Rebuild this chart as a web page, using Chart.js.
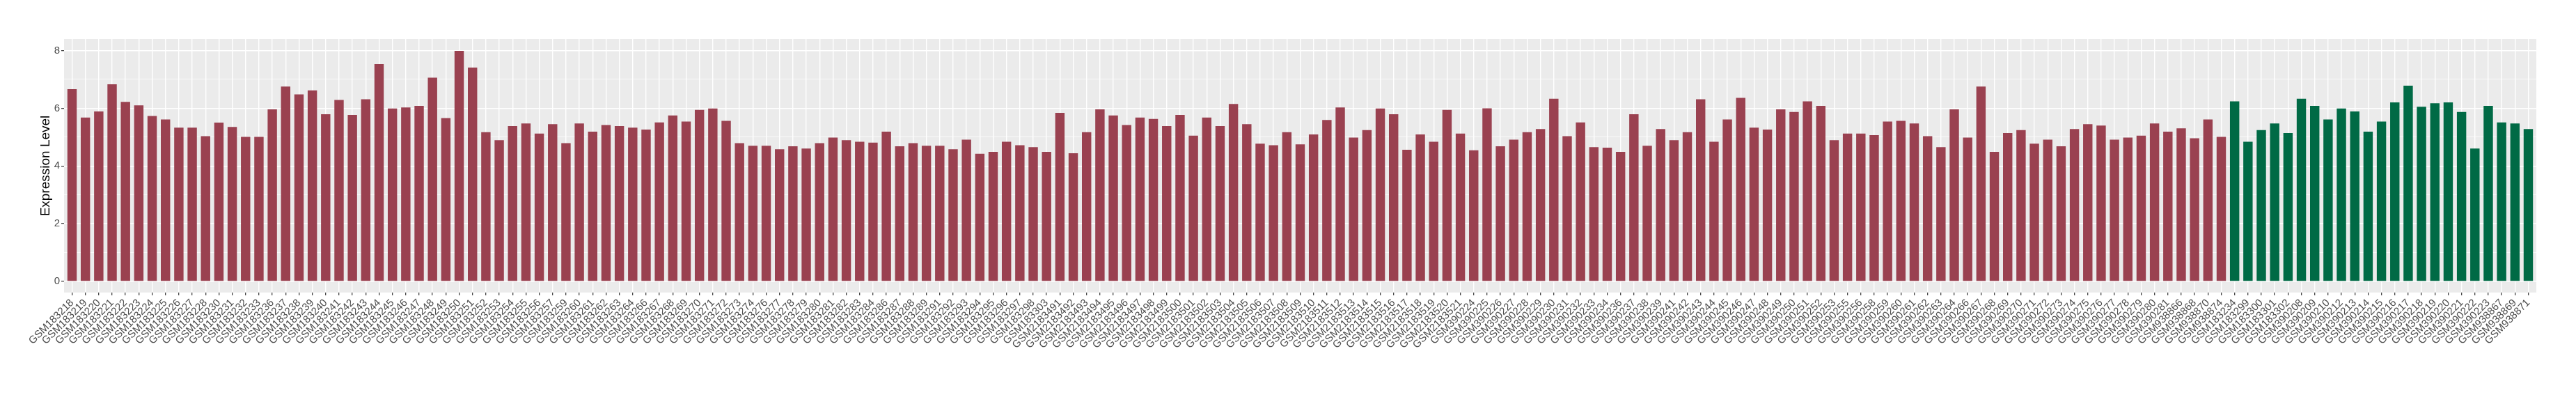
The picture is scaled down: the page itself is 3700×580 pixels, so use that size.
<!DOCTYPE html>
<html lang="en">
<head>
    <meta charset="UTF-8">
    <title>Expression Level</title>
    <script src="https://cdn.jsdelivr.net/npm/chart.js@4.4.0/dist/chart.umd.min.js"></script>
    <style>
        body { margin: 0; background: #ffffff; }
        canvas { display: block; }
    </style>
</head>
<body>
    <canvas id="graph1" width="3700" height="580"></canvas>
    <script>
        // red group samples and values
        const redSamples = [
            "GSM183218", "GSM183219", "GSM183220", "GSM183221", "GSM183222", "GSM183223", "GSM183224", "GSM183225",
            "GSM183226", "GSM183227", "GSM183228", "GSM183230", "GSM183231", "GSM183232", "GSM183233", "GSM183236",
            "GSM183237", "GSM183238", "GSM183239", "GSM183240", "GSM183241", "GSM183242", "GSM183243", "GSM183244",
            "GSM183245", "GSM183246", "GSM183247", "GSM183248", "GSM183249", "GSM183250", "GSM183251", "GSM183252",
            "GSM183253", "GSM183254", "GSM183255", "GSM183256", "GSM183257", "GSM183259", "GSM183260", "GSM183261",
            "GSM183262", "GSM183263", "GSM183264", "GSM183266", "GSM183267", "GSM183268", "GSM183269", "GSM183270",
            "GSM183271", "GSM183272", "GSM183273", "GSM183274", "GSM183276", "GSM183277", "GSM183278", "GSM183279",
            "GSM183280", "GSM183281", "GSM183282", "GSM183283", "GSM183284", "GSM183286", "GSM183287", "GSM183288",
            "GSM183289", "GSM183291", "GSM183292", "GSM183293", "GSM183294", "GSM183295", "GSM183296", "GSM183297",
            "GSM183298", "GSM183303",
            "GSM2183491", "GSM2183492", "GSM2183493", "GSM2183494", "GSM2183495", "GSM2183496", "GSM2183497",
            "GSM2183498", "GSM2183499", "GSM2183500", "GSM2183501", "GSM2183502", "GSM2183503", "GSM2183504",
            "GSM2183505", "GSM2183506", "GSM2183507", "GSM2183508", "GSM2183509", "GSM2183510", "GSM2183511",
            "GSM2183512", "GSM2183513", "GSM2183514", "GSM2183515", "GSM2183516", "GSM2183517", "GSM2183518",
            "GSM2183519", "GSM2183520", "GSM2183521",
            "GSM390224", "GSM390225", "GSM390226", "GSM390227", "GSM390228", "GSM390229", "GSM390230", "GSM390231",
            "GSM390232", "GSM390233", "GSM390234", "GSM390236", "GSM390237", "GSM390238", "GSM390239", "GSM390241",
            "GSM390242", "GSM390243", "GSM390244", "GSM390245", "GSM390246", "GSM390247", "GSM390248", "GSM390249",
            "GSM390250", "GSM390251", "GSM390252", "GSM390253", "GSM390255", "GSM390256", "GSM390258", "GSM390259",
            "GSM390260", "GSM390261", "GSM390262", "GSM390263", "GSM390264", "GSM390266", "GSM390267", "GSM390268",
            "GSM390269", "GSM390270", "GSM390271", "GSM390272", "GSM390273", "GSM390274", "GSM390275", "GSM390276",
            "GSM390277", "GSM390278", "GSM390279", "GSM390280", "GSM390281",
            "GSM938866", "GSM938868", "GSM938870", "GSM938874"
        ];
        const redValues = [
            6.66, 5.68, 5.89, 6.83, 6.22, 6.10, 5.73, 5.61, 5.33, 5.33, 5.03, 5.50, 5.35, 5.01, 5.01, 5.96,
            6.75, 6.48, 6.62, 5.79, 6.29, 5.77, 6.31, 7.53, 5.99, 6.03, 6.08, 7.06, 5.66, 7.99, 7.41, 5.17,
            4.89, 5.38, 5.47, 5.12, 5.45, 4.79, 5.47, 5.19, 5.42, 5.38, 5.33, 5.26, 5.51, 5.75, 5.54, 5.94,
            5.99, 5.56, 4.79, 4.70, 4.70, 4.58, 4.68, 4.60, 4.79, 4.98, 4.89, 4.84, 4.81, 5.19, 4.68, 4.79,
            4.70, 4.70, 4.58, 4.91, 4.42, 4.49, 4.84, 4.72, 4.65, 4.49,
            5.84, 4.44, 5.17, 5.96, 5.75, 5.42, 5.68, 5.63, 5.38, 5.77, 5.05, 5.68, 5.38, 6.15, 5.45, 4.77,
            4.72, 5.17, 4.75, 5.09, 5.59, 6.03, 4.98, 5.24, 5.99, 5.79, 4.56, 5.09, 4.84, 5.94, 5.12,
            4.54, 6.00, 4.68, 4.91, 5.17, 5.28, 6.33, 5.03, 5.51, 4.65, 4.63, 4.49, 5.79, 4.70, 5.28, 4.89,
            5.17, 6.31, 4.84, 5.61, 6.36, 5.33, 5.26, 5.96, 5.87, 6.24, 6.08, 4.89, 5.12, 5.12, 5.07, 5.54,
            5.56, 5.47, 5.03, 4.65, 5.96, 4.98, 6.75, 4.49, 5.14, 5.24, 4.77, 4.91, 4.68, 5.28, 5.45, 5.40,
            4.91, 4.98, 5.05, 5.47, 5.19,
            5.30, 4.96, 5.61, 5.01
        ];
        // green group samples and values
        const greenSamples = [
            "GSM183234", "GSM183299", "GSM183300", "GSM183301", "GSM183302", "GSM390208", "GSM390209", "GSM390210",
            "GSM390212", "GSM390213", "GSM390214", "GSM390215", "GSM390216", "GSM390217", "GSM390218", "GSM390219",
            "GSM390220", "GSM390221", "GSM390222", "GSM390223", "GSM938867", "GSM938869", "GSM938871"
        ];
        const greenValues = [
            6.24, 4.84, 5.24, 5.47, 5.14, 6.33, 6.08, 5.61, 5.99, 5.89, 5.19, 5.54, 6.20, 6.78, 6.05, 6.17,
            6.20, 5.87, 4.60, 6.08, 5.51, 5.47, 5.28
        ];
        const yTicks = [0, 1, 2, 3, 4, 5, 6, 7, 8];

        const redColor = "#9A4150";
        const greenColor = "#006A45";
        const font = "'Liberation Sans', Arial, sans-serif";

        const samples = redSamples.concat(greenSamples);
        const values = redValues.concat(greenValues);
        const points = [];
        const colors = [];
        for (let i = 0; i < samples.length; i++) {
            points.push({ x: i, y: values[i] });
            colors.push(i < redSamples.length ? redColor : greenColor);
        }

        // grey panel behind the grid, like ggplot's theme_grey
        const panelBg = {
            id: "panelBg",
            beforeDraw(chart) {
                const a = chart.chartArea;
                const ctx = chart.ctx;
                ctx.save();
                ctx.fillStyle = "#EBEBEB";
                ctx.fillRect(a.left, a.top, a.right - a.left, a.bottom - a.top);
                ctx.restore();
            }
        };

        new Chart("graph1", {
            type: "bar",
            data: {
                datasets: [{
                    data: points,
                    backgroundColor: colors,
                    borderWidth: 0,
                    barPercentage: 0.7,
                    categoryPercentage: 1.0
                }]
            },
            options: {
                responsive: false,
                animation: false,
                devicePixelRatio: 1,
                layout: { padding: { left: 50, top: 56, right: 57, bottom: 0 } },
                plugins: { legend: { display: false }, tooltip: { enabled: false } },
                scales: {
                    x: {
                        type: "linear",
                        min: -0.6,
                        max: samples.length - 1 + 0.6,
                        offset: false,
                        border: { display: false },
                        grid: { offset: false, color: "#FFFFFF", lineWidth: 1.4, tickColor: "#333333", tickWidth: 1.2, tickLength: 4 },
                        afterBuildTicks: function (scale) {
                            scale.ticks = samples.map((s, i) => ({ value: i }));
                        },
                        afterFit: function (scale) { scale.height = 160; },
                        ticks: {
                            autoSkip: false,
                            maxRotation: 45,
                            minRotation: 45,
                            padding: 2,
                            color: "#4D4D4D",
                            font: { family: font, size: 15 },
                            callback: function (value) { return samples[value]; }
                        }
                    },
                    y: {
                        min: -0.39,
                        max: 8.40,
                        border: { display: false },
                        grid: {
                            color: "#FFFFFF",
                            lineWidth: (c) => (c.tick && c.tick.value % 2 === 0 ? 1.4 : 0.7),
                            tickColor: (c) => (c.tick && c.tick.value % 2 === 0 ? "#333333" : "rgba(0,0,0,0)"),
                            tickWidth: 1.2,
                            tickLength: 4
                        },
                        afterBuildTicks: function (scale) {
                            scale.ticks = yTicks.map((v) => ({ value: v }));
                        },
                        afterFit: function (scale) { scale.width = 42; },
                        title: {
                            display: true,
                            text: "Expression Level",
                            color: "#000000",
                            font: { family: font, size: 19 },
                            padding: { top: 4, bottom: 0 }
                        },
                        ticks: {
                            padding: 2,
                            color: "#4D4D4D",
                            font: { family: font, size: 15 },
                            callback: function (value) { return value % 2 === 0 ? value : ""; }
                        }
                    }
                }
            },
            plugins: [panelBg]
        });
    </script>
</body>
</html>
